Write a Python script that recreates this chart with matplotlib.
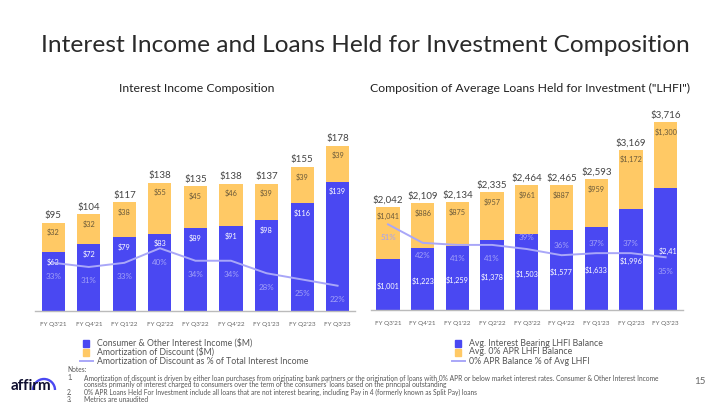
import matplotlib.pyplot as plt
from matplotlib.patches import Rectangle, Arc
from matplotlib.lines import Line2D

plt.rcParams['font.family'] = ['Lato', 'DejaVu Sans']

# data
quarters = ["FY Q3'21", "FY Q4'21", "FY Q1'22", "FY Q2'22", "FY Q3'22",
            "FY Q4'22", "FY Q1'23", "FY Q2'23", "FY Q3'23"]

# left chart: interest income composition ($M)
consumer_income = [63, 72, 79, 83, 89, 91, 98, 116, 139]
amort_discount = [32, 32, 38, 55, 45, 46, 39, 39, 39]
income_totals = [95, 104, 117, 138, 135, 138, 137, 155, 178]
amort_pct = [33, 31, 33, 40, 34, 34, 28, 25, 22]

# right chart: average LHFI ($M)
interest_bearing = [1001, 1223, 1259, 1378, 1503, 1577, 1633, 1996, 2415]
zero_apr = [1041, 886, 875, 957, 961, 887, 959, 1172, 1300]
lhfi_totals = [2042, 2109, 2134, 2335, 2464, 2465, 2593, 3169, 3716]
zero_apr_pct = [51, 42, 41, 41, 39, 36, 37, 37, 35]

BLUE = '#4A48F2'
YELLOW = '#FFC965'
LINE = '#A9A7F8'
PCT_TXT = '#A3A1F8'
W, H = 720, 405


def fx(x):
    return x / W


def fy(y):
    return 1 - y / H


fig = plt.figure(figsize=(7.2, 4.05), dpi=100)
fig.patch.set_facecolor('white')


def draw_chart(rect, xlim, ylim, ylim2, width, low, high, totals, pct,
               pct_offsets, centered_low=False, last_shift=0.0):
    ax = fig.add_axes(rect)
    x = list(range(len(quarters)))
    ax.bar(x, low, width=width, color=BLUE, zorder=2)
    ax.bar(x, high, width=width, bottom=low, color=YELLOW, zorder=2)
    ax.set_xlim(*xlim)
    ax.set_ylim(*ylim)
    for s in ['top', 'right', 'left']:
        ax.spines[s].set_visible(False)
    ax.spines['bottom'].set_color('#BBBBBB')
    ax.spines['bottom'].set_linewidth(1)
    ax.set_yticks([])
    ax.set_xticks(x)
    ax.set_xticklabels(quarters, fontsize=4.6, color='#666666')
    ax.tick_params(axis='x', length=0, pad=8)
    for i in x:
        top = low[i] + high[i]
        ax.annotate(f'${totals[i]:,}', (i, top), xytext=(0, 7),
                    textcoords='offset pixels', ha='center', va='center',
                    fontsize=7, color='#444444', zorder=5)
        ax.annotate(f'${high[i]:,}', (i, top), xytext=(0, -10),
                    textcoords='offset pixels', ha='center', va='center',
                    fontsize=5.3, color='#6B5A3A', zorder=5)
        if not centered_low:
            ax.annotate(f'${low[i]:,}', (i, low[i]), xytext=(0, -10),
                        textcoords='offset pixels', ha='center', va='center',
                        fontsize=5.3, color='white', zorder=5)
        else:
            dx = last_shift if i == len(x) - 1 else 0
            ax.annotate(f'${low[i]:,}', (i + dx, low[i] / 2),
                        xytext=(0, -2), textcoords='offset pixels',
                        ha='center', va='center', fontsize=5.3,
                        color='white', zorder=5)
    ax2 = ax.twinx()
    ax2.set_ylim(*ylim2)
    ax2.axis('off')
    ax2.plot(x, pct, color=LINE, lw=1.4, zorder=3)
    for i in x:
        ax2.annotate(f'{pct[i]}%', (i, pct[i]), xytext=(0, pct_offsets[i]),
                     textcoords='offset pixels', ha='center', va='center',
                     fontsize=5.8, color=PCT_TXT, zorder=5)
    return ax


# left chart
draw_chart([fx(35), fy(310.7), fx(320), 170.7 / H], (-0.515, 8.49), (0, 184),
           (10, 92), 0.65, consumer_income, amort_discount, income_totals,
           amort_pct, [-14] * 9)

# right chart
draw_chart([fx(371), fy(310), fx(312), 200 / H], (-0.49, 8.5),
           (0, 3953), (9.4, 106.5), 0.67, interest_bearing,
           zero_apr, lhfi_totals, zero_apr_pct,
           [-13, -13, -14, -14, 12, 10, 10, 10, -14],
           centered_low=True, last_shift=0.14)

# titles
fig.text(fx(365), fy(45), 'Interest Income and Loans Held for Investment Composition',
         ha='center', va='center', fontsize=17.6, color='#2a2a2a')
fig.text(fx(197), fy(88), 'Interest Income Composition', ha='center',
         va='center', fontsize=8.8, color='#222222')
fig.text(fx(530), fy(88), 'Composition of Average Loans Held for Investment ("LHFI")',
         ha='center', va='center', fontsize=8.8, color='#222222')


# legends
def legend_rows(x0, labels):
    ys = [343, 352, 361]
    for k, (y, lab) in enumerate(zip(ys, labels)):
        if k < 2:
            fig.patches.append(Rectangle((fx(x0 + 3), fy(y + 3.5)), fx(6), 7 / H,
                                         transform=fig.transFigure,
                                         color=[BLUE, YELLOW][k]))
        else:
            fig.lines.append(Line2D([fx(x0), fx(x0 + 13)], [fy(y), fy(y)],
                                    transform=fig.transFigure, color=LINE, lw=1.4))
        fig.text(fx(x0 + 17), fy(y), lab, ha='left', va='center',
                 fontsize=6.3, color='#555555')


legend_rows(80, ['Consumer & Other Interest Income ($M)',
                 'Amortization of Discount ($M)',
                 'Amortization of Discount as % of Total Interest Income'])
legend_rows(452, ['Avg. Interest Bearing LHFI Balance',
                  'Avg. 0% APR LHFI Balance',
                  '0% APR Balance % of Avg LHFI'])

# notes
fig.text(fx(67), fy(370), 'Notes:', fontsize=4.8, color='#555555', va='center')
notes = [
    ('1.', 378, 'Amortization of discount is driven by either loan purchases from originating bank partners or the origination of loans with 0% APR or below market interest rates. Consumer & Other Interest Income'),
    ('', 385, "consists primarily of interest charged to consumers over the term of the consumers' loans based on the principal outstanding"),
    ('2.', 392.5, '0% APR Loans Held For Investment include all loans that are not interest bearing, including Pay in 4 (formerly known as Split Pay) loans'),
    ('3.', 399.5, 'Metrics are unaudited'),
]
for num, y, txt in notes:
    if num:
        fig.text(fx(67), fy(y), num, fontsize=4.8, color='#555555', va='center')
    fig.text(fx(84), fy(y), txt, fontsize=4.8, color='#555555', va='center')

# logo and page number
fig.text(fx(11), fy(386), 'affirm', fontsize=11, fontweight='bold',
         color='#101030', va='center', ha='left')
fig.patches.append(Arc((fx(44), fy(390)), fx(22), 22 / H, theta1=0, theta2=180,
                       transform=fig.transFigure, color=BLUE, lw=1.7))
fig.text(fx(706), fy(382), '15', fontsize=7, color='#666666', ha='right', va='center')

fig.savefig('out.png', dpi=100)
